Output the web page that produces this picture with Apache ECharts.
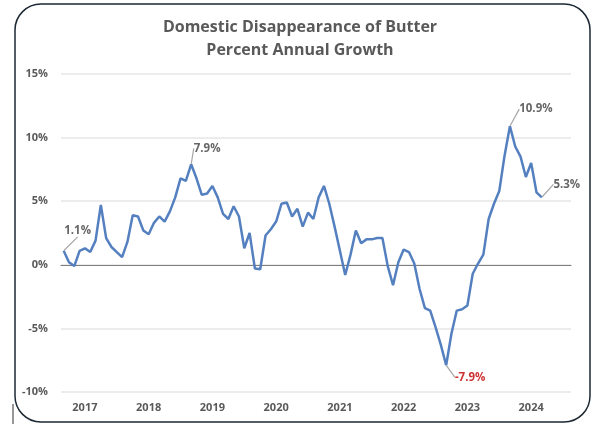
<!DOCTYPE html>
<html>
<head>
<meta charset="utf-8">
<script src="https://cdn.jsdelivr.net/npm/echarts@6/dist/echarts.min.js"></script>
<style>
	html, body { margin: 0; padding: 0; background: #fff; }
	#chart { width: 600px; height: 427px; }
</style>
</head>
<body>
<div id="chart"></div>
<script>
// year labels on the x axis, months run Jan 2017 - Dec 2024
var years = ['2017', '2018', '2019', '2020', '2021', '2022', '2023', '2024'];
var monthNames = ['Jan', 'Feb', 'Mar', 'Apr', 'May', 'Jun', 'Jul', 'Aug', 'Sep', 'Oct', 'Nov', 'Dec'];

// percent annual growth, monthly from Jan 2017 to Jul 2024
var growth = [
	1.1, 0.2, -0.1, 1.1, 1.3, 1.0, 1.9, 4.7, 2.1, 1.4, 1.0, 0.6,
	1.8, 3.9, 3.8, 2.7, 2.4, 3.3, 3.8, 3.4, 4.2, 5.3, 6.8, 6.6,
	7.9, 6.8, 5.5, 5.6, 6.2, 5.3, 4.0, 3.6, 4.6, 3.8, 1.3, 2.5,
	-0.3, -0.35, 2.3, 2.8, 3.4, 4.8, 4.9, 3.8, 4.4, 3.0, 4.1, 3.6,
	5.3, 6.2, 4.8, 3.0, 1.1, -0.8, 0.8, 2.7, 1.7, 2.0, 2.0, 2.1,
	2.1, -0.1, -1.6, 0.2, 1.2, 1.0, 0.1, -1.9, -3.4, -3.6, -4.9, -6.3,
	-7.9, -5.4, -3.6, -3.5, -3.2, -0.7, 0.1, 0.8, 3.6, 4.8, 5.8, 8.6,
	10.9, 9.3, 8.5, 6.9, 8.0, 5.7, 5.3
];

// y axis ticks
var yMin = -10, yMax = 15, yStep = 5;

// points that carry a callout label
var calloutIndex = [0, 24, 72, 84, 90];

var months = [];
for (var y = 0; y < years.length; y++) {
	for (var m = 0; m < 12; m++) {
		months.push(monthNames[m] + ' ' + years[y]);
	}
}

// label offsets (px) for the callouts
var calloutShift = {
	0: [14, -20],
	24: [16, -16],
	72: [24, 12],
	84: [26, -17],
	90: [25, -13]
};

var greyText = '#595959';

var calloutData = growth.map(function (v, i) {
	if (calloutIndex.indexOf(i) < 0) {
		return '-';
	}
	return {
		value: v,
		label: {
			show: true,
			color: v < 0 ? '#c00000' : '#404040'
		}
	};
});

var myChart = echarts.init(document.getElementById('chart'));
var option = {
	animation: false,
	textStyle: { fontFamily: 'Open Sans' },
	title: {
		text: 'Domestic Disappearance of Butter\nPercent Annual Growth',
		left: 'center',
		top: 11,
		textStyle: {
			fontFamily: 'Open Sans',
			fontSize: 16,
			fontWeight: 'bold',
			color: greyText,
			lineHeight: 23
		}
	},
	graphic: [
		{
			type: 'rect',
			shape: { x: 15, y: 4, width: 575, height: 418, r: 26 },
			style: { fill: 'none', stroke: '#1c2833', lineWidth: 1.5 },
			silent: true
		},
		{
			type: 'line',
			shape: { x1: 13, y1: 404, x2: 13, y2: 424 },
			style: { stroke: '#333', lineWidth: 1 },
			silent: true
		}
	],
	grid: {
		left: 61,
		right: 29,
		top: 74,
		bottom: 35
	},
	xAxis: [
		{
			type: 'category',
			data: months,
			boundaryGap: true,
			position: 'bottom',
			axisLine: { onZero: true, lineStyle: { color: '#7f7f7f', width: 1.2 } },
			axisTick: { show: false },
			axisLabel: { show: false },
			splitLine: { show: false }
		},
		{
			type: 'category',
			data: years,
			boundaryGap: true,
			position: 'bottom',
			axisLine: { show: false, onZero: false },
			axisTick: { show: false },
			axisLabel: {
				margin: 10,
				fontSize: 11,
				fontWeight: 'bold',
				color: greyText,
				padding: [0, 16, 0, 0]
			},
			splitLine: { show: false }
		}
	],
	yAxis: {
		type: 'value',
		min: yMin,
		max: yMax,
		interval: yStep,
		axisLine: { show: false },
		axisTick: { show: false },
		axisLabel: {
			margin: 13,
			fontSize: 11,
			fontWeight: 'bold',
			color: greyText,
			formatter: '{value}%'
		},
		splitLine: { lineStyle: { color: '#e6e6e6', width: 1.5 } }
	},
	series: [
		{
			name: 'Growth',
			type: 'line',
			data: growth,
			showSymbol: false,
			lineStyle: { color: '#5580c0', width: 2.5 },
			z: 3
		},
		{
			name: 'Callouts',
			type: 'scatter',
			data: calloutData,
			symbolSize: 1,
			itemStyle: { color: 'rgba(0,0,0,0)' },
			label: {
				show: true,
				position: 'inside',
				fontSize: 11.5,
				fontWeight: 'bold',
				formatter: function (p) { return p.value.toFixed(1) + '%'; }
			},
			labelLine: {
				show: true,
				lineStyle: { color: '#a6a6a6', width: 1.2 }
			},
			labelLayout: function (params) {
				var s = calloutShift[params.dataIndex] || [0, 0];
				return { dx: s[0], dy: s[1] };
			},
			z: 4
		}
	]
};
myChart.setOption(option);
</script>
</body>
</html>
